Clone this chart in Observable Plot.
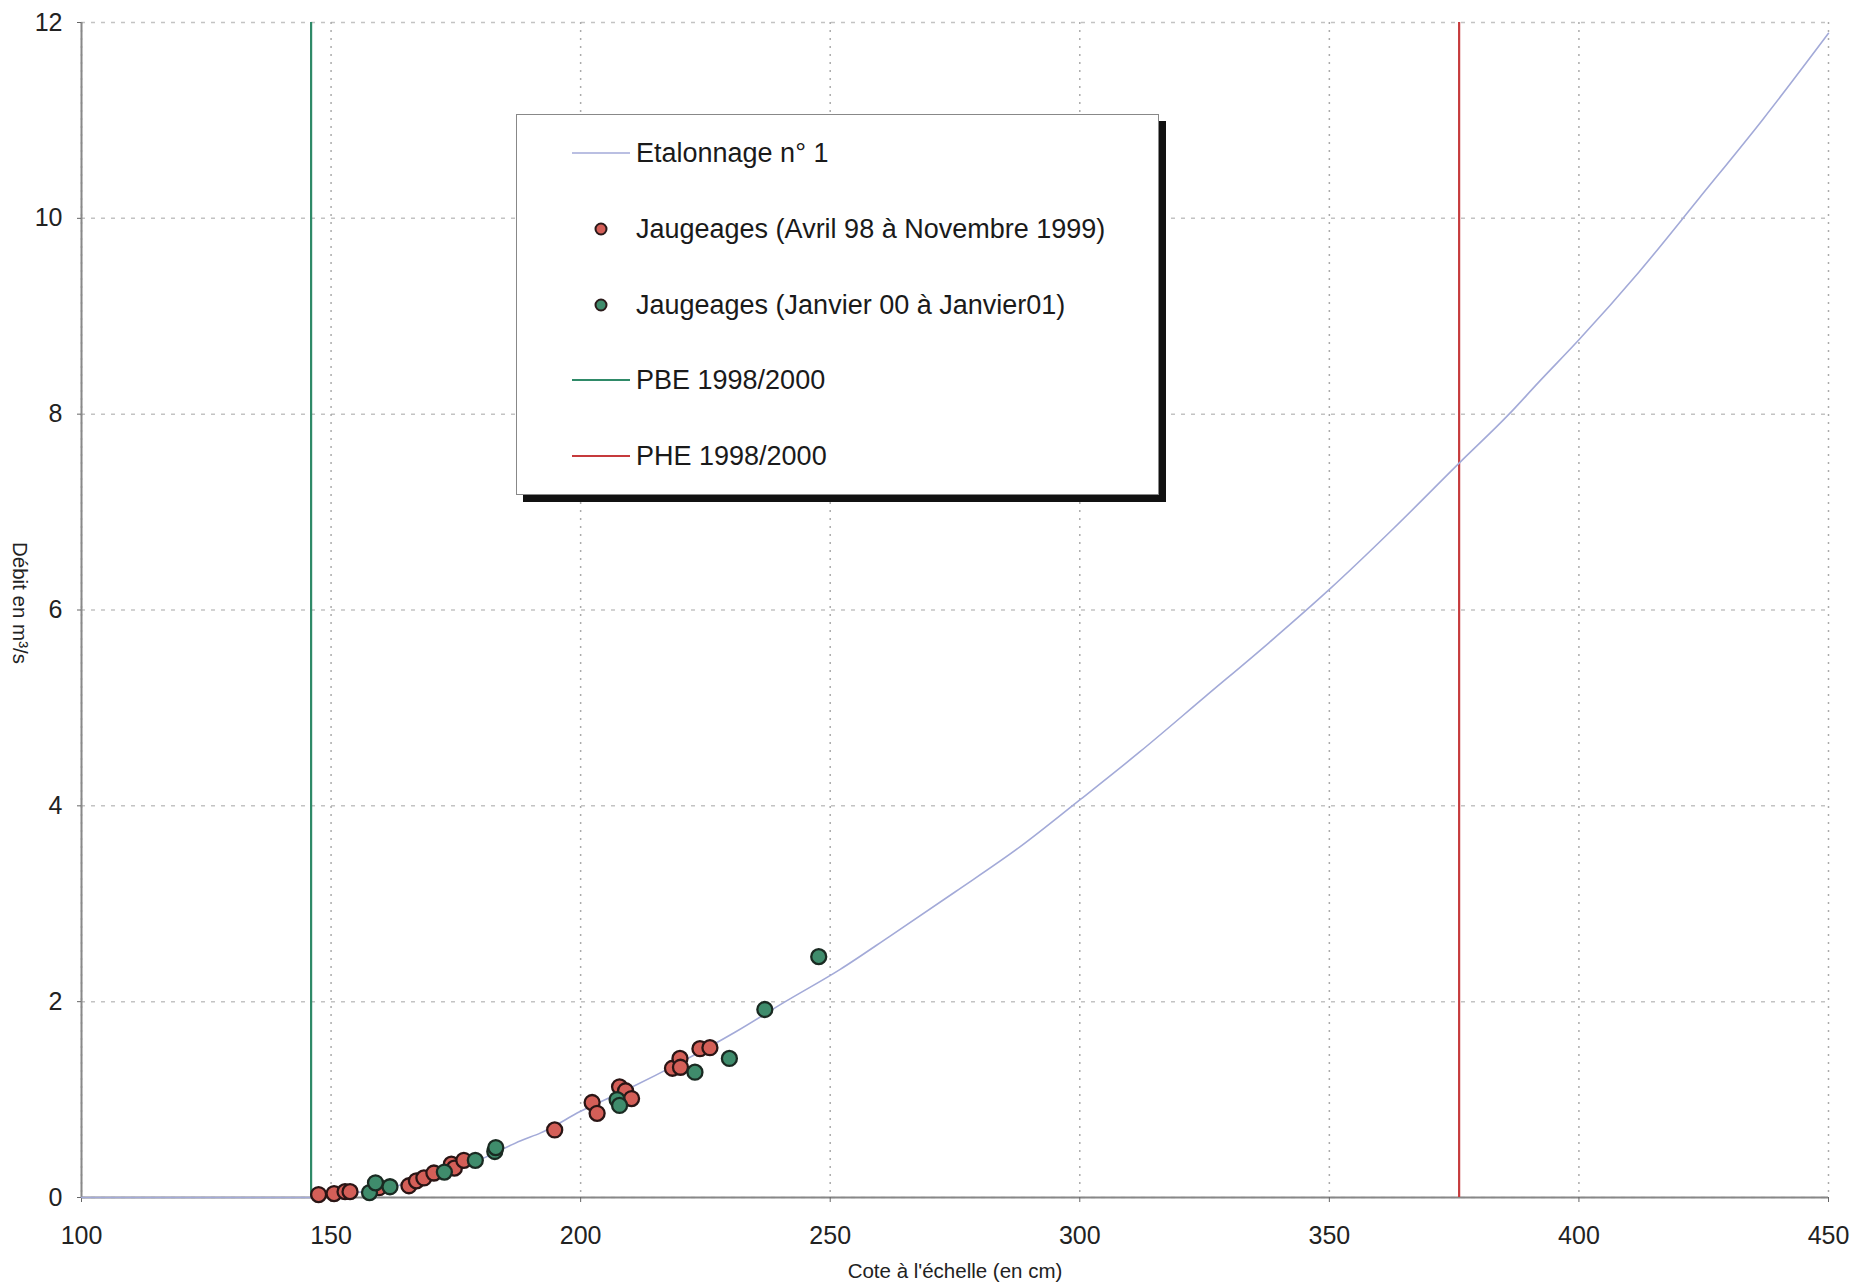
<!DOCTYPE html>
<html><head><meta charset="utf-8">
<script src="https://cdn.jsdelivr.net/npm/d3@7"></script>
<script src="https://cdn.jsdelivr.net/npm/@observablehq/plot@0.6"></script>
<style>
html,body{margin:0;padding:0;background:#fff;}
#wrap{position:relative;width:1855px;height:1285px;font-family:"Liberation Sans",Arial,sans-serif;color:#222;overflow:hidden;}
#wrap > svg{position:absolute;left:0;top:0;}
.ylab{position:absolute;left:10px;top:533px;height:140px;writing-mode:vertical-rl;font-size:20.5px;line-height:20px;text-align:center;}
.xlab{position:absolute;left:755px;width:400px;top:1259px;text-align:center;font-size:20.5px;}
.legend{position:absolute;left:516px;top:114px;width:641px;height:379px;background:#fff;border:1px solid #888;box-shadow:7px 7px 0 #111;}
.row{position:absolute;left:0;height:30px;width:640px;}
#wrap .row svg{position:absolute;left:50px;top:0;}
.row span{position:absolute;left:119px;top:0;font-size:27px;line-height:30px;white-space:nowrap;color:#1a1a1a;}
</style></head><body><div id="wrap"></div>
<script>
// Courbe de tarage (Etalonnage n° 1)
const etalonnageCote  = [100, 146, 150, 155, 160, 165, 170, 175, 180, 188, 192, 200, 210, 220, 231, 241, 252, 262, 275, 288, 300, 312, 325, 338, 350, 363, 376, 386, 392, 400, 412, 424, 437, 450];
const etalonnageDebit = [0, 0, 0.02, 0.05, 0.09, 0.14, 0.21, 0.29, 0.39, 0.58, 0.66, 0.88, 1.12, 1.38, 1.69, 2.0, 2.33, 2.67, 3.12, 3.58, 4.06, 4.55, 5.11, 5.67, 6.21, 6.84, 7.5, 8.0, 8.33, 8.76, 9.45, 10.2, 11.02, 11.89];

// Jaugeages (Avril 98 à Novembre 1999)
const jaug98Cote  = [147.5, 150.6, 152.8, 153.8, 159.6, 165.6, 167.1, 168.6, 170.6, 174.1, 174.7, 176.6, 194.8, 202.3, 203.3, 207.8, 209.0, 210.2, 218.4, 219.9, 220.0, 223.9, 225.9];
const jaug98Debit = [0.03, 0.04, 0.06, 0.06, 0.10, 0.12, 0.17, 0.20, 0.25, 0.34, 0.30, 0.38, 0.69, 0.97, 0.86, 1.13, 1.09, 1.01, 1.32, 1.42, 1.33, 1.52, 1.53];

// Jaugeages (Janvier 00 à Janvier01)
const jaug00Cote  = [157.7, 158.9, 161.8, 172.7, 178.9, 182.8, 183.0, 207.3, 207.8, 222.9, 229.8, 236.9, 247.7];
const jaug00Debit = [0.05, 0.15, 0.11, 0.26, 0.38, 0.47, 0.51, 1.00, 0.94, 1.28, 1.42, 1.92, 2.46];

// Niveaux de référence
const pbeCote = [146];   // PBE 1998/2000
const pheCote = [376];   // PHE 1998/2000

const xTicks = [100, 150, 200, 250, 300, 350, 400, 450];
const yTicks = [0, 2, 4, 6, 8, 10, 12];

const seriesNames = ["Etalonnage n° 1", "Jaugeages (Avril 98 à Novembre 1999)", "Jaugeages (Janvier 00 à Janvier01)", "PBE 1998/2000", "PHE 1998/2000"];
const xLabel = "Cote à l'échelle (en cm)";
const yLabel = "Débit en m³/s";

const colCurve = "#a3aad8", colRed = "#d45f58", colGreen = "#3f8c6c", colPBE = "#2f8a68", colPHE = "#c63a3c";

const curve = etalonnageCote.map((c, i) => ({x: c, y: etalonnageDebit[i]}));
const red = jaug98Cote.map((c, i) => ({x: c, y: jaug98Debit[i]}));
const green = jaug00Cote.map((c, i) => ({x: c, y: jaug00Debit[i]}));

const chart = Plot.plot({
  width: 1855, height: 1285,
  marginLeft: 81, marginRight: 27, marginTop: 22, marginBottom: 88,
  style: {fontFamily: "'Liberation Sans', Arial, sans-serif", fontSize: "25px", color: "#222", background: "transparent"},
  x: {domain: [100, 450]},
  y: {domain: [0, 12]},
  marks: [
    Plot.gridX(xTicks, {stroke: "#888", strokeOpacity: 0.7, strokeDasharray: "2,6", strokeWidth: 1.5}),
    Plot.gridY(yTicks, {stroke: "#aaa", strokeOpacity: 0.7, strokeDasharray: "4,6", strokeWidth: 1.5}),
    Plot.ruleX([100], {stroke: "#888", strokeWidth: 2}),
    Plot.ruleY([0], {stroke: "#888", strokeWidth: 2}),
    Plot.axisX({ticks: xTicks, tickSize: 5, tickPadding: 24, tickFormat: d => String(d), label: null, stroke: "#666", fontSize: 25}),
    Plot.axisY({ticks: yTicks, tickSize: 4, tickPadding: 15, tickFormat: d => String(d), label: null, stroke: "#666", fontSize: 25}),
    Plot.ruleX(pbeCote, {stroke: colPBE, strokeWidth: 2.2}),
    Plot.ruleX(pheCote, {stroke: colPHE, strokeWidth: 2.2}),
    Plot.line(curve, {x: "x", y: "y", stroke: colCurve, strokeWidth: 1.6, curve: "monotone-x"}),
    Plot.dot(red, {x: "x", y: "y", r: 7.5, fill: colRed, stroke: "#2a1515", strokeWidth: 2.3}),
    Plot.dot(green, {x: "x", y: "y", r: 7.5, fill: colGreen, stroke: "#1a2a22", strokeWidth: 2.3})
  ]
});

const wrap = document.getElementById("wrap");
wrap.appendChild(chart);

const yl = document.createElement("div"); yl.className = "ylab"; yl.textContent = yLabel; wrap.appendChild(yl);
const xl = document.createElement("div"); xl.className = "xlab"; xl.textContent = xLabel; wrap.appendChild(xl);

// Légende
const legend = document.createElement("div"); legend.className = "legend"; wrap.appendChild(legend);
const rowTops = [23, 99, 175, 250, 326];
const kinds = [["line", colCurve, 1.6], ["dot", colRed], ["dot", colGreen], ["line", colPBE, 2.2], ["line", colPHE, 2.2]];
seriesNames.forEach((name, i) => {
  const row = document.createElement("div"); row.className = "row"; row.style.top = rowTops[i] + "px";
  const k = kinds[i];
  const sym = k[0] === "line"
    ? `<svg width="64" height="30"><line x1="5" x2="63" y1="15" y2="15" stroke="${k[1]}" stroke-width="${k[2]}"/></svg>`
    : `<svg width="64" height="30"><circle cx="34" cy="15" r="5.5" fill="${k[1]}" stroke="#2a1a1a" stroke-width="2"/></svg>`;
  row.innerHTML = sym + `<span>${name}</span>`;
  legend.appendChild(row);
});
</script>
</body></html>
